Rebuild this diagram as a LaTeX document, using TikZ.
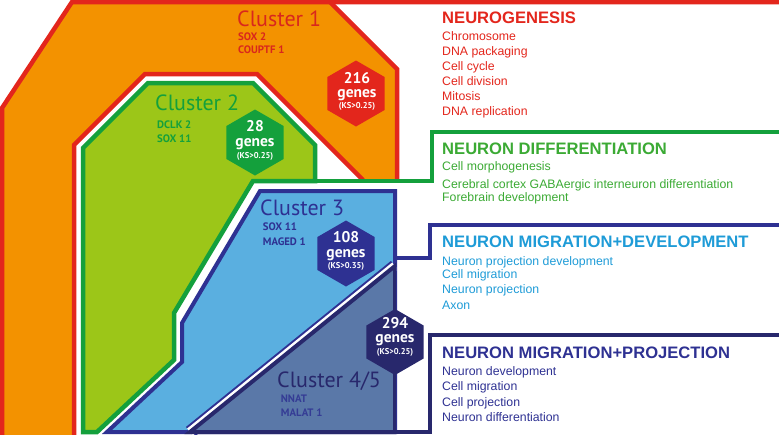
\documentclass[tikz,border=0pt]{standalone}
\usepackage{fontspec}
\setmainfont{Liberation Sans}
\newfontfamily\clfont{PT Sans}
\usetikzlibrary{shapes.geometric}
\definecolor{cRed}{HTML}{E3261C}
\definecolor{cRedT}{HTML}{D9271D}
\definecolor{cOrange}{HTML}{F39200}
\definecolor{cGreen}{HTML}{14A03C}
\definecolor{cGreenT}{HTML}{3BAA34}
\definecolor{cLime}{HTML}{9CC618}
\definecolor{cBlue}{HTML}{2E3192}
\definecolor{cLightBlue}{HTML}{5AAFE0}
\definecolor{cSteel}{HTML}{5A78A8}
\definecolor{cNavy}{HTML}{28286C}
\definecolor{cCyan}{HTML}{1E9BD7}
\begin{document}
\begin{tikzpicture}[x=1pt,y=-1pt,line join=miter,
  hexa/.style={regular polygon, regular polygon sides=6, shape border rotate=30, minimum size=66pt, inner sep=0pt, draw=none},
  hnum/.style={anchor=base, text=white, inner sep=0pt, font=\clfont\bfseries\fontsize{15.5}{15.5}\selectfont},
  hks/.style={anchor=base, text=white, inner sep=0pt, font=\clfont\bfseries\fontsize{8.5}{8.5}\selectfont},
  ctitle/.style={anchor=base west, inner sep=0pt, font=\clfont\fontsize{22}{22}\selectfont},
  csub/.style={anchor=base west, inner sep=0pt, font=\clfont\bfseries\fontsize{10.8}{10.8}\selectfont},
  head/.style={anchor=base west, inner sep=0pt, font=\bfseries\fontsize{16.6}{16.6}\selectfont},
  itm/.style={anchor=base west, inner sep=0pt, font=\fontsize{12.3}{12.3}\selectfont}]
\useasboundingbox (0,0) rectangle (779,434);
\clip (0,0) rectangle (779,434);
% cluster 1 and its inner hole
\fill[cOrange] (2,440) -- (2,108) -- (72,2) -- (330,2) -- (397,69) -- (397,440) -- cycle;
\fill[white] (74,440) -- (74,145) -- (145,74) -- (257,74) -- (363,180) -- (402,180) -- (402,440) -- cycle;
\draw[cRed, line width=4.5] (2,440) -- (2,108) -- (72,2) -- (781,2);
\draw[cRed, line width=4.5] (330,2) -- (397,69) -- (397,181);
\draw[cRed, line width=4.5] (74,440) -- (74,145) -- (145,74) -- (257,74) -- (363,180);
% cluster 2
\draw[cGreen, line width=4.5, fill=cLime] (83,432) -- (83,148) -- (148,83) -- (253,83) -- (315,145) -- (315,181) -- (253,181) -- (174,313) -- (174,360) -- (97,432) -- cycle;
% cluster 3
\draw[cBlue, line width=4, fill=cLightBlue] (107,432) -- (182,362) -- (182,323) -- (260,191) -- (395,191) -- (395,432) -- cycle;
% cluster 4/5
\begin{scope}
\clip (0,0) rectangle (396,434);
\draw[cBlue, line width=13] (395,266) -- (190,432);
\draw[white, line width=9] (395,266) -- (190,432);
\draw[cNavy, line width=4, fill=cSteel] (190,432) -- (395,266) -- (395,432) -- cycle;
\end{scope}
% brackets
\draw[cGreen, line width=4.5] (253,181) -- (432,181) -- (432,132) -- (781,132);
\draw[cBlue, line width=4] (395,189) -- (395,258) -- (430,258) -- (430,225) -- (781,225);
\draw[cNavy, line width=4] (395,432) -- (430,432) -- (430,335) -- (781,335);
% hexagons
\node[hexa, fill=cRed] (h1) at (356,93.5) {};
\node[hnum] (h1a) at (357,83.5) {216};
\node[hnum] (h1b) at (357,97.5) {genes};
\node[hks] (h1c) at (357,108.5) {(KS>0.25)};
\node[hexa, fill=cGreen] (h2) at (255,142.5) {};
\node[hnum] (h2a) at (255,131.2) {28};
\node[hnum] (h2b) at (255,146.5) {genes};
\node[hks] (h2c) at (255,158.5) {(KS>0.25)};
\node[hexa, fill=cBlue] (h3) at (346,253.5) {};
\node[hnum] (h3a) at (346,242.8) {108};
\node[hnum] (h3b) at (346,257) {genes};
\node[hks] (h3c) at (346,268.8) {(KS>0.35)};
\node[hexa, fill=cNavy] (h4) at (395,342) {};
\node[hnum] (h4a) at (395,328) {294};
\node[hnum] (h4b) at (395,342) {genes};
\node[hks] (h4c) at (395,354) {(KS>0.25)};
% cluster labels
\node[ctitle, text=cRedT] (t1) at (237,26) {Cluster 1};
\node[csub, text=cRedT] (t1a) at (238,40.7) {SOX 2};
\node[csub, text=cRedT] (t1b) at (238,53.3) {COUPTF 1};
\node[ctitle, text=cGreen] (t2) at (155,110) {Cluster 2};
\node[csub, text=cGreen] (t2a) at (157,128) {DCLK 2};
\node[csub, text=cGreen] (t2b) at (157,142) {SOX 11};
\node[ctitle, text=cBlue] (t3) at (260,215) {Cluster 3};
\node[csub, text=cBlue] (t3a) at (262.7,230.7) {SOX 11};
\node[csub, text=cBlue] (t3b) at (262.7,245) {MAGED 1};
\node[ctitle, text=cNavy] (t4) at (277,387) {Cluster 4/5};
\node[csub, text=cBlue!85!cSteel] (t4a) at (280.7,402.3) {NNAT};
\node[csub, text=cBlue!85!cSteel] (t4b) at (280.7,416.5) {MALAT 1};
% right side texts
\node[head, text=cRed] (g1) at (442,23.5) {NEUROGENESIS};
\node[itm, text=cRed] (g1a) at (442,40) {Chromosome};
\node[itm, text=cRed] (g1b) at (442,55) {DNA packaging};
\node[itm, text=cRed] (g1c) at (442,70) {Cell cycle};
\node[itm, text=cRed] (g1d) at (442,85.5) {Cell division};
\node[itm, text=cRed] (g1e) at (442,100) {Mitosis};
\node[itm, text=cRed] (g1f) at (442,115) {DNA replication};
\node[head, text=cGreenT] (g2) at (442,154) {NEURON DIFFERENTIATION};
\node[itm, text=cGreenT] (g2a) at (442,170.5) {Cell morphogenesis};
\node[itm, text=cGreenT] (g2b) at (442,188.5) {Cerebral cortex GABAergic interneuron differentiation};
\node[itm, text=cGreenT] (g2c) at (442,201.5) {Forebrain development};
\node[head, text=cCyan] (g3) at (442,247) {NEURON MIGRATION+DEVELOPMENT};
\node[itm, text=cCyan] (g3a) at (442,265) {Neuron projection development};
\node[itm, text=cCyan] (g3b) at (442,278.5) {Cell migration};
\node[itm, text=cCyan] (g3c) at (442,293.5) {Neuron projection};
\node[itm, text=cCyan] (g3d) at (442,309) {Axon};
\node[head, text=cBlue] (g4) at (442,358.5) {NEURON MIGRATION+PROJECTION};
\node[itm, text=cBlue] (g4a) at (442,375.7) {Neuron development};
\node[itm, text=cBlue] (g4b) at (442,390.7) {Cell migration};
\node[itm, text=cBlue] (g4c) at (442,406) {Cell projection};
\node[itm, text=cBlue] (g4d) at (442,421.7) {Neuron differentiation};
\end{tikzpicture}
\end{document}
